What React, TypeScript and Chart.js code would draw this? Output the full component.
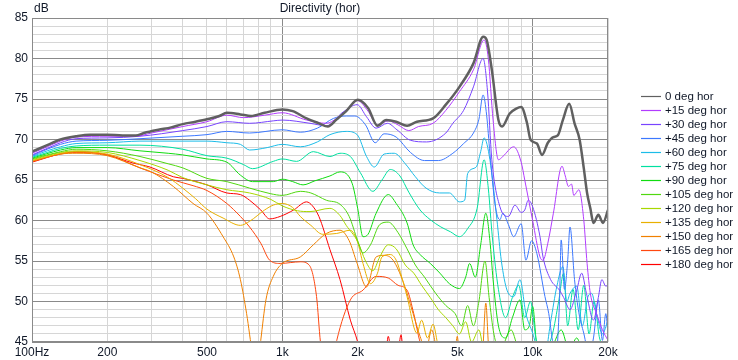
import React, { useEffect, useRef } from 'react';
import { Chart, registerables } from 'chart.js';
Chart.register(...registerables);

const FONT = '"Liberation Sans", Arial, sans-serif';
const TEXT = '#101828';
const MAJOR = '#8a8a8a';
const MINOR = '#d6d6d6';

const TITLE = 'Directivity (hor)';
const Y_UNIT = 'dB';

const X_GRID = [100, 200, 300, 400, 500, 600, 700, 800, 900, 1000, 2000, 3000, 4000, 5000, 6000, 7000, 8000, 9000, 10000, 20000];
const X_MAJOR = [100, 1000, 10000];
const X_LABEL_VALUES = [100, 200, 500, 1000, 2000, 5000, 10000, 20000];
const X_LABEL_TEXT = ['100Hz', '200', '500', '1k', '2k', '5k', '10k', '20k'];

const SERIES_NAMES = ['0 deg hor', '+15 deg hor', '+30 deg hor', '+45 deg hor', '+60 deg hor', '+75 deg hor', '+90 deg hor', '+105 deg hor', '+120 deg hor', '+135 deg hor', '+150 deg hor', '+165 deg hor', '+180 deg hor'];
const SERIES_COLORS = ['#606060', '#b23cff', '#7844ff', '#3c78ff', '#1cbce8', '#00e0a0', '#10dc10', '#50d810', '#a8d800', '#e8b000', '#f08000', '#ff4810', '#ff0000'];

const DEG_0: [number, number][] = [[100,68.5],[115,69.3],[130,70.0],[150,70.4],[170,70.6],[200,70.6],[230,70.5],[260,70.5],[280,70.8],[320,71.2],[360,71.5],[400,71.9],[450,72.2],[500,72.5],[560,72.9],[600,73.3],[680,73.1],[750,72.9],[850,73.3],[1000,73.7],[1100,73.5],[1250,72.6],[1400,72.0],[1520,71.6],[1650,72.5],[1800,73.5],[2000,74.9],[2200,73.9],[2400,71.7],[2600,72.4],[2850,72.2],[3150,71.7],[3450,72.2],[4000,72.6],[4500,74.3],[5100,76.5],[5800,79.4],[6350,82.7],[6550,82.3],[6870,78.6],[7300,72.4],[7550,71.6],[8100,73.2],[8600,73.8],[9000,74.0],[9500,72.0],[9800,70.0],[10400,69.5],[10900,68.1],[11500,69.6],[12100,70.3],[12600,70.5],[13200,72.4],[14000,74.4],[14700,72.0],[15400,70.0],[16000,66.5],[16500,63.4],[17000,61.5],[17500,59.7],[18300,60.7],[19100,59.7],[20000,61.3]];
const DEG_15: [number, number][] = [[100,68.3],[115,69.1],[130,69.8],[150,70.3],[200,70.4],[260,70.4],[300,70.8],[400,71.6],[500,72.2],[600,73.0],[700,72.7],[850,73.0],[1000,73.3],[1250,72.4],[1500,72.0],[1650,72.6],[1800,73.5],[2000,74.8],[2200,73.5],[2400,71.8],[2650,72.3],[2900,71.8],[3200,71.1],[3500,71.6],[4000,72.0],[4500,73.6],[5100,75.9],[5800,78.6],[6400,82.3],[6650,80.0],[6950,72.4],[7300,67.5],[7600,67.9],[8400,69.1],[9000,67.2],[9300,65.0],[10000,60.0],[10700,55.5],[11000,55.1],[11500,57.2],[12100,60.9],[13100,66.7],[13500,65.5],[13900,64.2],[14300,64.5],[14600,63.1],[15300,63.8],[16000,60.1],[16500,54.7],[17000,51.0],[18000,48.5],[19000,46.5],[20000,45.2]];
const DEG_30: [number, number][] = [[100,68.1],[115,68.9],[130,69.6],[150,70.1],[200,70.2],[270,70.4],[400,71.1],[500,71.6],[600,72.2],[740,72.0],[920,72.3],[1000,72.4],[1290,72.0],[1500,71.7],[1750,73.4],[1990,74.3],[2170,72.8],[2370,71.4],[2630,72.0],[2870,71.2],[3250,69.9],[3770,69.7],[4500,70.8],[4800,72.0],[5300,73.6],[5800,76.5],[6340,80.0],[6600,76.0],[6870,67.5],[7400,61.7],[8000,60.5],[8500,61.9],[9000,61.0],[9300,61.3],[9600,62.5],[10000,61.7],[10700,58.0],[11000,55.5],[11800,52.7],[12800,51.4],[13300,50.5],[14100,49.0],[15000,51.4],[15700,53.5],[16400,51.0],[17500,47.7],[18300,50.5],[18900,52.7],[19600,51.9],[20000,52.0]];
const DEG_45: [number, number][] = [[100,68.0],[115,68.8],[130,69.4],[150,69.8],[200,69.9],[270,70.1],[400,70.4],[500,70.6],[600,71.0],[740,70.8],[1000,71.2],[1180,70.9],[1380,71.4],[1600,72.6],[1800,72.9],[1950,72.9],[2150,71.8],[2350,69.6],[2550,70.7],[2850,70.3],[3250,68.4],[3700,67.4],[4200,67.4],[4800,68.3],[5300,69.5],[5800,70.8],[6100,72.5],[6340,75.5],[6550,73.0],[6750,68.3],[7100,61.7],[7400,60.1],[7600,60.9],[8000,59.5],[8400,58.0],[9000,59.6],[9400,55.1],[9900,57.5],[10400,55.9],[11200,50.6],[11600,48.5],[12000,45.2],[12400,43.5],[12800,50.0],[13000,57.6],[13400,51.5],[13800,55.0],[14100,59.2],[14700,52.7],[15300,48.6],[16000,46.1],[16800,43.5],[17500,45.5],[18300,50.2],[19000,45.2],[19600,48.5],[20000,46.0]];
const DEG_60: [number, number][] = [[100,67.9],[115,68.6],[130,69.1],[150,69.5],[200,69.6],[270,69.8],[400,69.8],[500,69.8],[600,69.6],[680,69.4],[740,68.7],[870,69.0],[1000,69.4],[1180,69.1],[1380,69.7],[1550,70.6],[1800,71.0],[1990,70.6],[2170,67.9],[2330,66.6],[2550,68.2],[2800,68.3],[3100,67.0],[3400,65.4],[3750,64.0],[4250,63.4],[4650,63.4],[5100,62.3],[5350,62.5],[5500,65.8],[5950,66.6],[6200,68.5],[6400,70.2],[6750,67.5],[7200,60.1],[7500,55.0],[7900,51.4],[8400,50.6],[8900,52.7],[9400,48.5],[10000,46.1],[10500,44.0],[11200,43.5],[11800,47.5],[12500,51.9],[13200,54.3],[13700,50.0],[14100,51.0],[15000,51.9],[15800,47.0],[16600,50.5],[17200,51.0],[18000,48.5],[19000,46.0],[20000,47.7]];
const DEG_75: [number, number][] = [[100,67.8],[115,68.4],[130,68.9],[150,69.2],[200,69.3],[270,69.3],[400,68.8],[500,68.0],[600,67.7],[700,66.9],[760,66.4],[920,67.3],[1000,67.6],[1140,67.3],[1330,68.5],[1550,67.9],[1700,68.3],[1870,67.9],[2050,65.9],[2300,63.6],[2500,65.0],[2700,66.3],[2950,65.5],[3200,63.5],[3550,61.3],[3900,60.1],[4300,59.2],[4700,58.6],[5100,58.0],[5500,59.0],[6000,61.5],[6400,67.5],[6650,64.0],[6900,58.0],[7300,51.5],[7800,48.0],[8300,50.5],[8800,52.0],[9300,48.0],[9800,50.0],[10300,45.5],[11000,43.5],[12000,46.0],[12700,50.0],[13300,53.5],[13800,47.0],[14500,51.5],[15200,46.5],[16000,52.0],[16800,46.0],[17600,50.0],[18500,45.5],[20000,44.0]];
const DEG_90: [number, number][] = [[100,67.7],[130,68.7],[150,69.0],[200,69.0],[270,68.6],[350,68.3],[400,68.1],[500,67.6],[600,67.2],[680,65.6],[760,64.8],[920,64.8],[1000,65.1],[1100,64.8],[1210,64.4],[1350,64.9],[1550,65.5],[1700,66.0],[1900,64.6],[2000,61.5],[2100,58.0],[2200,58.3],[2370,60.9],[2650,63.2],[2850,62.1],[3150,59.7],[3330,57.0],[3550,55.8],[3900,54.7],[4260,53.5],[4650,52.2],[5100,51.6],[5400,53.0],[5600,54.7],[5900,53.0],[6200,57.0],[6500,60.9],[6750,57.5],[6950,52.7],[7300,47.0],[7800,45.5],[8300,48.0],[8900,50.2],[9300,46.5],[9700,47.0],[10000,49.4],[10400,44.5],[11000,43.5],[12000,44.5],[13000,46.5],[14000,44.0],[15000,45.5],[16000,43.5],[20000,43.0]];
const DEG_105: [number, number][] = [[100,67.6],[130,68.5],[150,68.8],[200,68.6],[270,67.9],[350,67.0],[400,66.5],[500,65.2],[600,64.8],[740,64.0],[900,63.3],[1000,63.1],[1180,63.6],[1300,63.4],[1500,62.5],[1700,62.0],[1850,60.5],[2000,57.5],[2100,56.0],[2250,57.0],[2450,59.5],[2650,59.8],[2900,58.5],[3150,56.5],[3400,54.5],[3700,53.0],[4100,51.0],[4500,49.5],[4900,48.5],[5200,47.0],[5500,49.5],[5800,47.0],[6100,50.0],[6450,55.0],[6700,50.5],[7000,46.0],[7400,44.0],[8200,46.5],[8700,44.5],[9200,43.5],[20000,43.0]];
const DEG_120: [number, number][] = [[100,67.5],[130,68.4],[150,68.6],[200,68.4],[270,67.4],[350,66.2],[400,65.3],[500,64.4],[600,63.8],[740,63.4],[900,62.6],[1000,61.8],[1150,61.2],[1290,61.1],[1550,61.5],[1700,60.6],[1800,59.4],[2000,57.4],[2150,55.0],[2300,53.8],[2450,55.5],[2650,57.0],[2850,56.5],[3100,54.5],[3350,53.5],[3600,52.0],[3900,50.5],[4200,49.0],[4500,48.0],[4800,47.0],[5100,46.0],[5400,47.5],[5700,45.0],[6100,46.5],[6400,44.0],[20000,43.0]];
const DEG_135: [number, number][] = [[100,67.4],[130,68.3],[150,68.5],[200,68.2],[270,66.9],[350,65.3],[400,64.0],[450,62.7],[500,61.4],[580,60.3],[680,59.4],[740,59.9],[850,61.3],[920,61.9],[1000,62.1],[1100,61.6],[1180,60.5],[1300,59.4],[1450,58.3],[1650,58.4],[1870,58.8],[2000,57.3],[2100,54.7],[2250,52.2],[2400,53.5],[2500,55.5],[2700,55.8],[2850,55.1],[3000,53.0],[3150,50.6],[3450,46.1],[3600,47.7],[3800,45.5],[4000,47.2],[4200,44.5],[4600,43.5],[20000,43.0]];
const DEG_150: [number, number][] = [[100,67.3],[130,68.2],[150,68.3],[200,68.0],[270,66.5],[300,66.0],[367,64.2],[440,62.1],[500,60.9],[580,58.0],[640,55.5],[680,52.7],[720,48.5],[760,43.5],[790,41.0],[820,45.2],[860,50.2],[920,53.1],[1000,54.7],[1180,55.5],[1330,57.0],[1500,58.4],[1700,58.8],[1850,57.5],[1990,54.7],[2170,51.8],[2370,55.5],[2550,55.7],[2770,55.1],[3050,52.3],[3330,48.5],[3550,45.7],[3750,44.0],[3950,46.5],[4200,43.5],[4900,44.0],[5000,45.7],[5100,43.5],[6300,44.0],[6500,49.8],[6700,44.0],[20000,43.0]];
const DEG_165: [number, number][] = [[100,67.3],[130,68.2],[150,68.4],[200,68.1],[270,66.5],[367,65.0],[440,64.3],[500,63.7],[600,62.1],[680,60.5],[740,59.2],[820,57.2],[890,55.1],[980,54.7],[1180,54.9],[1280,54.5],[1370,50.6],[1420,45.0],[1500,41.0],[1600,43.0],[1650,45.2],[1870,50.2],[2100,51.4],[2370,53.1],[2650,52.9],[2900,52.0],[3150,51.4],[3350,48.5],[3550,45.0],[3800,43.0],[20000,43.0]];
const DEG_180: [number, number][] = [[100,67.2],[133,68.3],[155,68.5],[200,68.1],[253,67.1],[296,66.6],[367,65.4],[400,65.2],[500,64.4],[600,63.4],[680,63.2],[740,62.5],[820,61.3],[890,60.2],[980,60.5],[1110,61.3],[1250,62.3],[1320,61.8],[1400,60.5],[1550,56.4],[1700,52.7],[1870,47.7],[2000,45.0],[2100,42.0],[2500,42.0],[2600,44.0],[2650,45.7],[2720,44.0],[2900,44.0],[2980,45.9],[3050,43.5],[20000,43.0]];

const SERIES = [DEG_0, DEG_15, DEG_30, DEG_45, DEG_60, DEG_75, DEG_90, DEG_105, DEG_120, DEG_135, DEG_150, DEG_165, DEG_180];

const framePlugin = {
  id: 'frameAndText',
  afterDraw(chart: any) {
    const { ctx, chartArea } = chart;
    const l = Math.round(chartArea.left) + 0.5;
    const t = Math.round(chartArea.top) + 0.5;
    const r = Math.round(chartArea.right) - 0.5;
    const b = Math.round(chartArea.bottom) - 0.5;
    ctx.save();
    ctx.strokeStyle = MAJOR;
    ctx.lineWidth = 1;
    ctx.strokeRect(l, t, r - l, b - t);
    ctx.fillStyle = TEXT;
    ctx.font = `12px ${FONT}`;
    ctx.textBaseline = 'middle';
    ctx.textAlign = 'center';
    ctx.fillText(TITLE, (chartArea.left + chartArea.right) / 2, 9);
    ctx.textAlign = 'left';
    ctx.fillText(Y_UNIT, chartArea.left + 2, 9);
    // legend
    ctx.font = `11.5px ${FONT}`;
    chart.data.datasets.forEach((ds: any, i: number) => {
      const y = 96 + i * 14;
      ctx.strokeStyle = ds.borderColor;
      ctx.lineWidth = 1.2;
      ctx.beginPath();
      ctx.moveTo(641, y + 0.5);
      ctx.lineTo(661, y + 0.5);
      ctx.stroke();
      ctx.fillStyle = TEXT;
      ctx.fillText(ds.label, 665, y + 1);
    });
    ctx.restore();
  },
};

export default function App() {
  const ref = useRef<HTMLCanvasElement>(null);
  useEffect(() => {
    const canvas = ref.current!;
    const datasets = SERIES.map((pts, i) => ({
      label: SERIES_NAMES[i],
      data: pts.map(([x, y]) => ({ x, y })),
      borderColor: SERIES_COLORS[i],
      backgroundColor: SERIES_COLORS[i],
      borderWidth: i === 0 ? 2.5 : 1,
      pointRadius: 0,
      fill: false,
      cubicInterpolationMode: 'monotone' as const,
      clip: 0,
    }));
    const chart = new Chart(canvas, {
      type: 'line',
      data: { datasets },
      options: {
        responsive: false,
        animation: false,
        devicePixelRatio: 1,
        layout: { padding: { left: 0, right: 130, top: 18, bottom: 0 } },
        plugins: { legend: { display: false }, title: { display: false }, tooltip: { enabled: false } },
        scales: {
          x: {
            type: 'logarithmic',
            min: 100,
            max: 20000,
            afterBuildTicks: (s: any) => { s.ticks = X_GRID.map((v) => ({ value: v })); },
            afterFit: (s: any) => { s.height = 18; },
            grid: {
              color: (c: any) => (X_MAJOR.includes(c.tick?.value) ? MAJOR : MINOR),
              drawTicks: false,
              lineWidth: 1,
            },
            border: { display: false },
            ticks: {
              autoSkip: false,
              maxRotation: 0,
              padding: 3,
              color: TEXT,
              font: { family: FONT, size: 12 },
              callback: (v: any) => {
                const k = X_LABEL_VALUES.indexOf(Number(v));
                return k >= 0 ? X_LABEL_TEXT[k] : '';
              },
            },
          },
          y: {
            type: 'linear',
            min: 45,
            max: 85,
            afterFit: (s: any) => { s.width = 32; },
            grid: {
              color: (c: any) => (c.tick && c.tick.value % 5 === 0 ? MAJOR : MINOR),
              drawTicks: false,
              lineWidth: 1,
            },
            border: { display: false },
            ticks: {
              stepSize: 1,
              autoSkip: false,
              padding: 4,
              color: TEXT,
              font: { family: FONT, size: 12 },
              callback: (v: any) => (Number(v) % 5 === 0 ? String(v) : ''),
            },
          },
        },
      },
      plugins: [framePlugin],
    });
    return () => chart.destroy();
  }, []);
  return (
    <div style={{ position: 'fixed', left: 0, top: 0, width: 738, height: 360, background: '#fff' }}>
      <canvas ref={ref} width={738} height={360} style={{ display: 'block' }} />
    </div>
  );
}
